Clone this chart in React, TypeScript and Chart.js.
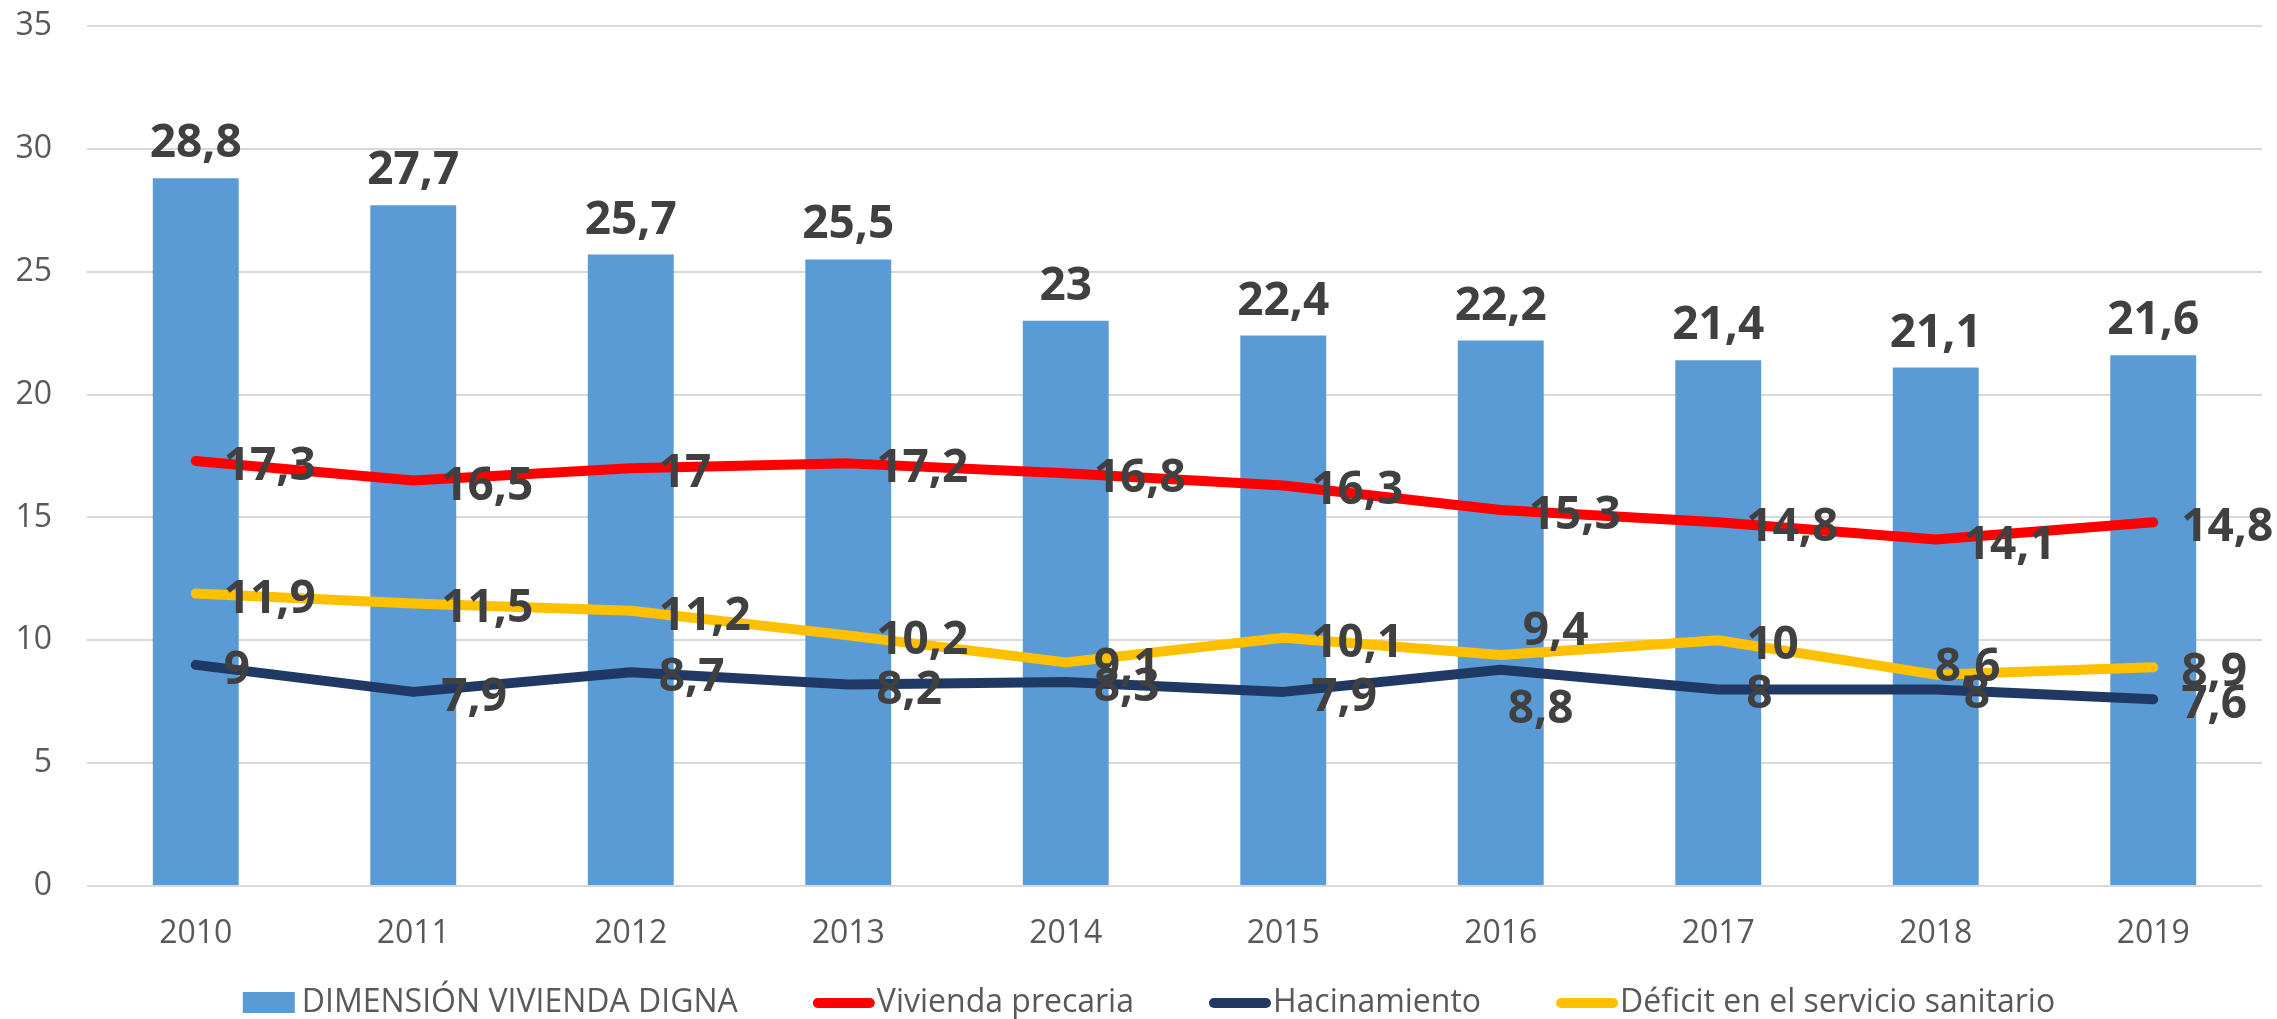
import React, { useEffect, useRef } from 'react';
import { Chart, registerables } from 'chart.js';

Chart.register(...registerables);

// ---- data ----
const years = ['2010', '2011', '2012', '2013', '2014', '2015', '2016', '2017', '2018', '2019'];
const dimensionViviendaDigna = [28.8, 27.7, 25.7, 25.5, 23, 22.4, 22.2, 21.4, 21.1, 21.6];
const viviendaPrecaria = [17.3, 16.5, 17, 17.2, 16.8, 16.3, 15.3, 14.8, 14.1, 14.8];
const hacinamiento = [9, 7.9, 8.7, 8.2, 8.3, 7.9, 8.8, 8, 8, 7.6];
const deficitSanitario = [11.9, 11.5, 11.2, 10.2, 9.1, 10.1, 9.4, 10, 8.6, 8.9];
const seriesNames = [
  'DIMENSIÓN VIVIENDA DIGNA',
  'Vivienda precaria',
  'Hacinamiento',
  'Déficit en el servicio sanitario',
];
const yMin = 0;
const yMax = 35;
const yStep = 5;

// label placement per point (style only)
const precariaLabelPos = ['r', 'r', 'r', 'r', 'r', 'r', 'r', 'r', 'r', 'r'];
const hacinamientoLabelPos = ['r', 'r', 'r', 'r', 'r', 'r', 'b', 'r', 'r', 'r'];
const deficitLabelPos = ['r', 'r', 'r', 'r', 'r', 'r', 'ar', 'r', 'a', 'r'];

const LABEL_OFFSETS: Record<string, { dx: number; dy: number }> = {
  r: { dx: 28, dy: 19 },
  b: { dx: 7, dy: 53 },
  ar: { dx: 22, dy: -10 },
  a: { dx: -1, dy: 6 },
};

const COLORS = {
  bar: '#5B9BD5',
  red: '#FF0000',
  navy: '#203864',
  yellow: '#FFC000',
  label: '#404040',
  tick: '#595959',
  grid: '#D9D9D9',
};

const fmt = (v: number) => String(v).replace('.', ',');

const dataLabelsPlugin = {
  id: 'dataLabelsCustom',
  afterDatasetsDraw(chart: any) {
    const ctx = chart.ctx;
    ctx.save();
    ctx.fillStyle = COLORS.label;
    ctx.font = 'bold 46px "Open Sans", "Liberation Sans", sans-serif';
    chart.data.datasets.forEach((ds: any, i: number) => {
      const meta = chart.getDatasetMeta(i);
      meta.data.forEach((el: any, j: number) => {
        const txt = fmt(ds.data[j]);
        if (ds.type === 'bar') {
          ctx.textAlign = 'center';
          ctx.textBaseline = 'alphabetic';
          ctx.fillText(txt, el.x, el.y - 21);
        } else {
          const off = LABEL_OFFSETS[ds.labelPos[j]] || LABEL_OFFSETS.r;
          ctx.textAlign = 'left';
          ctx.textBaseline = 'alphabetic';
          ctx.fillText(txt, el.x + off.dx, el.y + off.dy);
        }
      });
    });
    ctx.restore();
  },
};

const legendPlugin = {
  id: 'legendCustom',
  afterDraw(chart: any) {
    const ctx = chart.ctx;
    ctx.save();
    ctx.font = '32px "Open Sans", "Liberation Sans", sans-serif';
    ctx.textBaseline = 'middle';
    ctx.textAlign = 'left';
    const cy = 1003;
    const items = chart.data.datasets.map((ds: any) => {
      const isBar = ds.type === 'bar';
      const mw = isBar ? 52 : 62;
      const gap = isBar ? 7 : 2;
      const tw = ctx.measureText(ds.label).width;
      return { ds, isBar, mw, gap, tw, w: mw + gap + tw };
    });
    const itemGap = 75;
    const total = items.reduce((s: number, it: any) => s + it.w, 0) + itemGap * (items.length - 1);
    let x = 1149 - total / 2;
    items.forEach((it: any) => {
      if (it.isBar) {
        ctx.fillStyle = it.ds.backgroundColor;
        ctx.fillRect(x, cy - 11, it.mw, 21);
      } else {
        ctx.strokeStyle = it.ds.borderColor;
        ctx.lineWidth = 10;
        ctx.lineCap = 'round';
        ctx.beginPath();
        ctx.moveTo(x + 5, cy);
        ctx.lineTo(x + it.mw - 5, cy);
        ctx.stroke();
      }
      ctx.fillStyle = COLORS.tick;
      ctx.fillText(it.ds.label, x + it.mw + it.gap, cy);
      x += it.w + itemGap;
    });
    ctx.restore();
  },
};

export default function App() {
  const canvasRef = useRef<HTMLCanvasElement | null>(null);

  useEffect(() => {
    document.body.style.margin = '0';
    const canvas = canvasRef.current;
    if (!canvas) return;
    const lineDs = (label: string, data: number[], color: string, order: number, labelPos: string[]) => ({
      type: 'line' as const,
      label,
      data,
      borderColor: color,
      backgroundColor: color,
      borderWidth: 10,
      borderCapStyle: 'round',
      borderJoinStyle: 'round',
      pointRadius: 0,
      pointHoverRadius: 0,
      tension: 0,
      fill: false,
      order,
      labelPos,
    });
    const chart = new Chart(canvas, {
      type: 'bar',
      data: {
        labels: years,
        datasets: [
          {
            type: 'bar',
            label: seriesNames[0],
            data: dimensionViviendaDigna,
            backgroundColor: COLORS.bar,
            borderWidth: 0,
            barPercentage: 0.395,
            categoryPercentage: 1,
            order: 10,
          } as any,
          lineDs(seriesNames[1], viviendaPrecaria, COLORS.red, 3, precariaLabelPos) as any,
          lineDs(seriesNames[2], hacinamiento, COLORS.navy, 2, hacinamientoLabelPos) as any,
          lineDs(seriesNames[3], deficitSanitario, COLORS.yellow, 1, deficitLabelPos) as any,
        ],
      },
      options: {
        responsive: false,
        animation: false,
        devicePixelRatio: 1,
        layout: { padding: { top: 0, right: 15, bottom: 60, left: 0 } },
        plugins: {
          legend: { display: false },
          tooltip: { enabled: false },
        },
        scales: {
          x: {
            offset: true,
            grid: { display: false, drawTicks: false },
            border: { display: false },
            ticks: {
              color: COLORS.tick,
              font: { family: '"Open Sans", "Liberation Sans", sans-serif', size: 32 },
              padding: 29,
              maxRotation: 0,
            },
            afterFit: (scale: any) => {
              scale.height = 1019 - 886 - 60;
            },
          },
          y: {
            min: yMin,
            max: yMax,
            grid: { color: COLORS.grid, lineWidth: 2, drawTicks: false },
            border: { display: false },
            ticks: {
              stepSize: yStep,
              color: COLORS.tick,
              font: { family: '"Open Sans", "Liberation Sans", sans-serif', size: 32 },
              padding: 35,
            },
            afterFit: (scale: any) => {
              scale.width = 87;
              scale.paddingTop = 26;
              scale.paddingBottom = 0;
            },
          },
        },
      } as any,
      plugins: [dataLabelsPlugin, legendPlugin],
    });
    return () => chart.destroy();
  }, []);

  return (
    <canvas
      ref={canvasRef}
      width={2277}
      height={1019}
      style={{ display: 'block', width: 2277, height: 1019 }}
    />
  );
}
